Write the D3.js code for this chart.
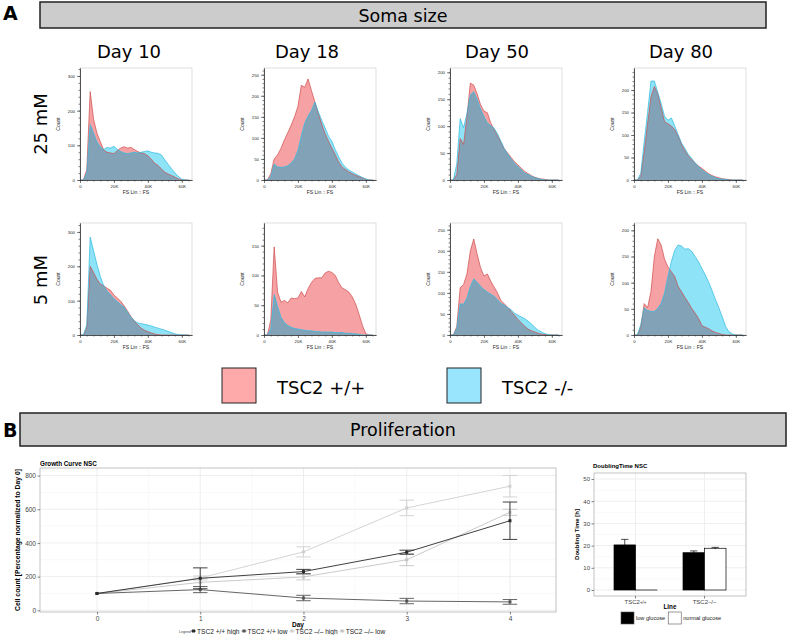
<!DOCTYPE html>
<html><head><meta charset="utf-8">
<script src="https://cdn.jsdelivr.net/npm/d3@7"></script>
<style>body{margin:0;background:#fff}svg{display:block}</style>
</head><body>
<svg id="chart" width="787" height="635"></svg>
<script>
// ---------------- DATA ----------------
const sectionTitles = ["Soma size", "Proliferation"];
const panelLetters = ["A", "B"];
const days = ["Day 10", "Day 18", "Day 50", "Day 80"];
const glucoseRows = ["25 mM", "5 mM"];
const genotypes = ["TSC2 +/+", "TSC2 -/-"];
const fsBinsK = [0,2,4,6,8,10,12,14,16,18,20,22,24,26,28,30,32,34,36,38,40,42,44,46,48,50,52,54,56,58,60,62,64];
const fsTicksK = [0, 20, 40, 60];
const fsTickLabels = ["0", "20K", "40K", "60K"];
const fsAxisLabel = "FS Lin :: FS";
const countLabel = "Count";

// 25 mM row
const wt_d10_25 = [0,0,30,255,175,135,110,86,80,78,76,85,92,96,92,94,88,82,78,76,70,60,48,42,32,22,17,13,8,3,0,0,0];
const ko_d10_25 = [0,0,20,160,135,110,95,88,94,92,97,88,82,78,76,78,80,78,80,82,84,80,78,77,72,58,45,32,20,10,2,0,0];
const wt_d18_25 = [0,0,15,50,60,75,95,112,130,150,175,225,220,240,212,185,158,133,110,92,76,60,43,31,25,19,15,11,8,5,2,0,0];
const ko_d18_25 = [0,0,8,38,31,30,31,34,40,50,70,105,135,152,165,185,162,142,124,104,92,72,55,40,30,24,19,15,10,6,2,0,0];
const wt_d50_25 = [0,0,10,77,66,118,180,176,160,140,128,125,106,94,82,70,58,50,42,34,28,22,16,12,8,5,3,2,1,0,0,0,0];
const ko_d50_25 = [0,0,30,114,97,124,158,164,150,132,118,106,101,96,86,72,58,48,39,31,25,19,13,10,7,4,3,1,0,0,0,0,0];
const wt_d80_25 = [0,0,8,62,125,185,208,192,161,130,125,120,112,98,80,65,54,45,38,31,26,20,14,10,7,5,3,2,1,0,0,0,0];
const ko_d80_25 = [0,0,15,85,150,220,220,195,170,142,133,138,120,101,82,70,57,48,38,30,23,17,12,8,5,3,2,1,0,0,0,0,0];
// 5 mM row
const wt_d10_5 = [0,0,20,200,182,162,148,143,136,130,116,108,98,85,70,54,40,30,20,14,10,6,3,1,0,0,0,0,0,0,0,0,0];
const ko_d10_5 = [0,0,30,285,245,205,170,143,128,117,106,97,89,81,66,52,42,35,33,31,29,26,23,20,17,14,10,7,3,1,0,0,0];
const wt_d18_5 = [0,0,25,148,72,55,58,54,62,61,62,73,64,78,88,95,96,96,104,107,105,100,88,79,76,72,64,52,35,16,2,0,0];
const ko_d18_5 = [0,0,10,68,48,30,21,16,13,11,10,9,8,7,7,6,6,5,5,5,5,4,4,4,3,3,2,2,1,0,0,0,0];
const wt_d50_5 = [0,0,20,112,120,145,200,228,192,160,140,145,128,114,100,82,74,66,56,47,37,29,21,14,10,7,4,2,1,0,0,0,0];
const ko_d50_5 = [0,0,15,74,73,88,115,133,125,116,108,102,97,92,84,75,71,65,60,52,47,43,39,33,26,18,11,7,3,1,0,0,0];
const wt_d80_5 = [0,0,15,60,52,83,150,184,172,145,130,121,112,93,83,72,62,51,42,32,18,15,12,8,5,3,1,0,0,0,0,0,0];
const ko_d80_5 = [0,0,20,52,47,45,45,51,60,80,112,140,162,172,170,164,165,160,150,140,127,115,101,85,68,52,35,16,6,2,0,0,0];

const histYMax = [[323, 266, 208, 249], [326, 188, 266, 214]];
const histYStep = [[100, 50, 50, 50], [100, 50, 50, 50]];

// Growth curve
const growthTitle = "Growth Curve NSC";
const growthDays = [0, 1, 2, 3, 4];
const growthYTicks = [0, 200, 400, 600, 800];
const growthSeries = ["TSC2 +/+ high", "TSC2 +/+ low", "TSC2 \u2013/\u2013 high", "TSC2 \u2013/\u2013 low"];
const wtHighMean = [100, 190, 230, 345, 532];
const wtHighErr  = [0, 62, 13, 12, 111];
const wtLowMean  = [100, 123, 73, 55, 50];
const wtLowErr   = [0, 18, 16, 16, 14];
const koHighMean = [100, 192, 347, 608, 737];
const koHighErr  = [0, 12, 30, 46, 64];
const koLowMean  = [100, 166, 198, 300, 582];
const koLowErr   = [0, 25, 17, 35, 18];
const growthXLabel = "Day";
const growthYLabel = "Cell count [Percentage normalized to Day 0]";
const growthLegendTitle = "Legend";

// Doubling time
const doublingTitle = "DoublingTime NSC";
const doublingLines = ["TSC2+/+", "TSC2\u2013/\u2013"];
const glucoseConds = ["low glucose", "normal glucose"];
const lowGlucoseMean = [20.3, 16.8];
const lowGlucoseErr = [2.5, 0.8];
const normalGlucoseMean = [0, 18.8];
const normalGlucoseErr = [0, 0.4];
const doublingYTicks = [0, 10, 20, 30, 40, 50];
const doublingXLabel = "Line";
const doublingYLabel = "Doubling Time [h]";

// ---------------- DRAWING ----------------
const svg = d3.select("#chart");
const SANS = "DejaVu Sans";
const ARIAL = "Liberation Sans, Arial, sans-serif";

// ---- Panel A header ----
svg.append("text").text(panelLetters[0]).attr("x", 3).attr("y", 20)
  .attr("font-family", SANS).attr("font-weight", "bold").attr("font-size", 19);
svg.append("rect").attr("x", 40).attr("y", 2).attr("width", 726).attr("height", 26)
  .attr("fill", "#cccccc").attr("stroke", "#222").attr("stroke-width", 1.5);
svg.append("text").text(sectionTitles[0]).attr("x", 403).attr("y", 21.5)
  .attr("text-anchor", "middle").attr("font-family", SANS).attr("font-size", 17.5);

const dayCenters = [129, 307, 497, 681];
days.forEach((d, i) => svg.append("text").text(d).attr("x", dayCenters[i]).attr("y", 58)
  .attr("text-anchor", "middle").attr("font-family", SANS).attr("font-size", 18));

const rowCentersY = [124, 280];
glucoseRows.forEach((g, i) => svg.append("text").text(g)
  .attr("transform", `translate(47,${rowCentersY[i]}) rotate(-90)`)
  .attr("text-anchor", "middle").attr("font-family", SANS).attr("font-size", 18));

// ---- histograms ----
const histPairs = [
  [[wt_d10_25, ko_d10_25], [wt_d18_25, ko_d18_25], [wt_d50_25, ko_d50_25], [wt_d80_25, ko_d80_25]],
  [[wt_d10_5, ko_d10_5], [wt_d18_5, ko_d18_5], [wt_d50_5, ko_d50_5], [wt_d80_5, ko_d80_5]]
];
const colLeft = [80, 264, 450, 634];
const rowTop = [68, 223];
const PW = 112, PH = 112;
const WT_FILL = "#f6a2a4", KO_FILL = "#8fe3f7", BOTH_FILL = "#82a2b8";
const WT_LINE = "#cf4a4c", KO_LINE = "#2db9de";

histPairs.forEach((row, r) => row.forEach((pair, c) => {
  const x0 = colLeft[c], y0 = rowTop[r];
  const x = d3.scaleLinear().domain([0, 66]).range([x0, x0 + PW]);
  const y = d3.scaleLinear().domain([0, histYMax[r][c]]).range([y0 + PH, y0]);
  const g = svg.append("g");
  g.append("rect").attr("x", x0).attr("y", y0).attr("width", PW).attr("height", PH)
    .attr("fill", "none").attr("stroke", "#c8c8c8").attr("stroke-width", 0.6);
  const area = d3.area().x((d, i) => x(fsBinsK[i])).y0(y(0)).y1(d => y(d));
  const line = d3.line().x((d, i) => x(fsBinsK[i])).y(d => y(d));
  const clipId = `clipwt${r}${c}`;
  g.append("clipPath").attr("id", clipId).append("path").attr("d", area(pair[0]));
  g.append("path").attr("d", area(pair[0])).attr("fill", WT_FILL);
  g.append("path").attr("d", area(pair[1])).attr("fill", KO_FILL);
  g.append("path").attr("d", area(pair[1])).attr("fill", BOTH_FILL).attr("clip-path", `url(#${clipId})`);
  g.append("path").attr("d", line(pair[0])).attr("fill", "none").attr("stroke", WT_LINE).attr("stroke-width", 0.7);
  g.append("path").attr("d", line(pair[1])).attr("fill", "none").attr("stroke", KO_LINE).attr("stroke-width", 0.7);

  const step = histYStep[r][c];
  const majors = d3.range(0, histYMax[r][c] + 1e-6, step);
  const minors = d3.range(0, histYMax[r][c] + 1e-6, step / 5);
  const ya = g.append("g").attr("transform", `translate(${x0},0)`)
    .call(d3.axisLeft(y).tickValues(minors).tickSize(1.5).tickSizeOuter(0).tickFormat(""));
  const yb = g.append("g").attr("transform", `translate(${x0},0)`)
    .call(d3.axisLeft(y).tickValues(majors).tickSize(3).tickSizeOuter(0).tickPadding(2).tickFormat(d3.format("d")));
  const xa = g.append("g").attr("transform", `translate(0,${y0 + PH})`)
    .call(d3.axisBottom(x).tickValues(d3.range(0, 66, 4)).tickSize(1.5).tickSizeOuter(0).tickFormat(""));
  const xb = g.append("g").attr("transform", `translate(0,${y0 + PH})`)
    .call(d3.axisBottom(x).tickValues(fsTicksK).tickSize(3).tickSizeOuter(0).tickPadding(2)
      .tickFormat((d, i) => fsTickLabels[i]));
  [ya, yb, xa, xb].forEach(a => {
    a.attr("font-size", 4.3).attr("font-family", ARIAL);
    a.selectAll("path,line").attr("stroke", "#333").attr("stroke-width", 0.6);
    a.selectAll("text").attr("fill", "#222");
  });
  g.append("text").text(countLabel).attr("transform", `translate(${x0 - 20},${y0 + PH / 2}) rotate(-90)`)
    .attr("text-anchor", "middle").attr("font-family", ARIAL).attr("font-size", 5).attr("fill", "#222");
  g.append("text").text(fsAxisLabel).attr("x", x0 + PW / 2).attr("y", y0 + PH + 14)
    .attr("text-anchor", "middle").attr("font-family", ARIAL).attr("font-size", 5).attr("fill", "#222");
}));

// ---- Panel A legend ----
const legendFills = ["#ffaaaa", "#99e5fd"];
const legendBoxX = [222, 447];
genotypes.forEach((gname, i) => {
  svg.append("rect").attr("x", legendBoxX[i]).attr("y", 368).attr("width", 34).attr("height", 35)
    .attr("fill", legendFills[i]).attr("stroke", "#222").attr("stroke-width", 1);
  svg.append("text").text(gname).attr("x", legendBoxX[i] + 55).attr("y", 394)
    .attr("font-family", SANS).attr("font-size", 18);
});

// ---- Panel B header ----
svg.append("text").text(panelLetters[1]).attr("x", 3).attr("y", 437)
  .attr("font-family", SANS).attr("font-weight", "bold").attr("font-size", 19);
svg.append("rect").attr("x", 20).attr("y", 413).attr("width", 766).attr("height", 33)
  .attr("fill", "#cccccc").attr("stroke", "#222").attr("stroke-width", 1.5);
svg.append("text").text(sectionTitles[1]).attr("x", 403).attr("y", 436)
  .attr("text-anchor", "middle").attr("font-family", SANS).attr("font-size", 17.5);

// ---- Growth curve ----
{
  const L = 40, R = 556, T = 468, B = 612;
  const gx = d3.scaleLinear().domain([-0.552, 4.446]).range([L, R]);
  const gy = d3.scaleLinear().domain([-10, 845]).range([B, T]);
  const g = svg.append("g");
  g.append("rect").attr("x", L).attr("y", T).attr("width", R - L).attr("height", B - T).attr("fill", "#fff");
  [0.5, 1.5, 2.5, 3.5].forEach(v => g.append("line").attr("x1", gx(v)).attr("x2", gx(v)).attr("y1", T).attr("y2", B).attr("stroke", "#f3f3f3").attr("stroke-width", 0.5));
  [100, 300, 500, 700].forEach(v => g.append("line").attr("x1", L).attr("x2", R).attr("y1", gy(v)).attr("y2", gy(v)).attr("stroke", "#f3f3f3").attr("stroke-width", 0.5));
  growthDays.forEach(v => g.append("line").attr("x1", gx(v)).attr("x2", gx(v)).attr("y1", T).attr("y2", B).attr("stroke", "#e6e6e6").attr("stroke-width", 0.7));
  growthYTicks.forEach(v => g.append("line").attr("x1", L).attr("x2", R).attr("y1", gy(v)).attr("y2", gy(v)).attr("stroke", "#e6e6e6").attr("stroke-width", 0.7));

  const series = [
    { name: growthSeries[3], mean: koLowMean, err: koLowErr, color: "#c4c4c4" },
    { name: growthSeries[2], mean: koHighMean, err: koHighErr, color: "#cfcfcf" },
    { name: growthSeries[1], mean: wtLowMean, err: wtLowErr, color: "#555555" },
    { name: growthSeries[0], mean: wtHighMean, err: wtHighErr, color: "#2a2a2a" }
  ];
  const ln = d3.line().x((d, i) => gx(growthDays[i])).y(d => gy(d));
  series.forEach(s => {
    g.append("path").attr("d", ln(s.mean)).attr("fill", "none").attr("stroke", s.color).attr("stroke-width", 0.9);
    s.mean.forEach((m, i) => {
      if (s.err[i] > 0) {
        const cx = gx(growthDays[i]), y1 = gy(m - s.err[i]), y2 = gy(m + s.err[i]);
        const cw = gx(0.07) - gx(0);
        g.append("line").attr("x1", cx).attr("x2", cx).attr("y1", y1).attr("y2", y2).attr("stroke", s.color).attr("stroke-width", 0.9);
        g.append("line").attr("x1", cx - cw).attr("x2", cx + cw).attr("y1", y1).attr("y2", y1).attr("stroke", s.color).attr("stroke-width", 0.9);
        g.append("line").attr("x1", cx - cw).attr("x2", cx + cw).attr("y1", y2).attr("y2", y2).attr("stroke", s.color).attr("stroke-width", 0.9);
      }
      g.append("rect").attr("x", gx(growthDays[i]) - 1.5).attr("y", gy(m) - 1.5).attr("width", 3).attr("height", 3).attr("fill", s.color);
    });
  });
  g.append("rect").attr("x", L).attr("y", T).attr("width", R - L).attr("height", B - T)
    .attr("fill", "none").attr("stroke", "#b5b5b5").attr("stroke-width", 0.8);

  const ya = g.append("g").attr("transform", `translate(${L},0)`)
    .call(d3.axisLeft(gy).tickValues(growthYTicks).tickSize(2.5).tickSizeOuter(0).tickPadding(1.5));
  const xa = g.append("g").attr("transform", `translate(0,${B})`)
    .call(d3.axisBottom(gx).tickValues(growthDays).tickSize(2.5).tickSizeOuter(0).tickPadding(1.5).tickFormat(d3.format("d")));
  [ya, xa].forEach(a => {
    a.attr("font-size", 6.5).attr("font-family", ARIAL);
    a.select(".domain").remove();
    a.selectAll("line").attr("stroke", "#333").attr("stroke-width", 0.6);
    a.selectAll("text").attr("fill", "#444");
  });
  g.append("text").text(growthTitle).attr("x", L).attr("y", 466)
    .attr("font-family", ARIAL).attr("font-weight", "bold").attr("font-size", 6.3);
  g.append("text").text(growthXLabel).attr("x", (L + R) / 2).attr("y", 627)
    .attr("text-anchor", "middle").attr("font-family", ARIAL).attr("font-weight", "bold").attr("font-size", 6.5);
  g.append("text").text(growthYLabel).attr("transform", `translate(20,${(T + B) / 2}) rotate(-90)`)
    .attr("text-anchor", "middle").attr("font-family", ARIAL).attr("font-weight", "bold").attr("font-size", 6.8);

  // legend
  const lg = g.append("g").attr("font-family", ARIAL);
  lg.append("text").text(growthLegendTitle).attr("x", 179).attr("y", 633).attr("font-size", 3.5).attr("fill", "#444");
  let cx = 191;
  const legendOrder = [series[3], series[2], series[1], series[0]];
  legendOrder.forEach(s => {
    lg.append("line").attr("x1", cx).attr("x2", cx + 5).attr("y1", 631).attr("y2", 631).attr("stroke", s.color).attr("stroke-width", 0.9);
    lg.append("rect").attr("x", cx + 1).attr("y", 629.5).attr("width", 3).attr("height", 3).attr("fill", s.color);
    const t = lg.append("text").text(s.name).attr("x", cx + 6).attr("y", 633.5).attr("font-size", 6.6).attr("fill", "#222");
    cx += 6 + t.node().getComputedTextLength() + 2;
  });
}

// ---- Doubling time ----
{
  const L = 594, R = 746, T = 473, B = 596;
  const dy = d3.scaleLinear().domain([-2.7, 52.7]).range([B, T]);
  const dx = d3.scaleBand().domain(doublingLines).range([L, R]).paddingInner(0.377).paddingOuter(0.29);
  const inner = d3.scaleBand().domain(glucoseConds).range([0, dx.bandwidth()]);
  const g = svg.append("g");
  [5, 15, 25, 35, 45].forEach(v => g.append("line").attr("x1", L).attr("x2", R).attr("y1", dy(v)).attr("y2", dy(v)).attr("stroke", "#f3f3f3").attr("stroke-width", 0.5));
  doublingYTicks.forEach(v => g.append("line").attr("x1", L).attr("x2", R).attr("y1", dy(v)).attr("y2", dy(v)).attr("stroke", "#e6e6e6").attr("stroke-width", 0.7));
  doublingLines.forEach(v => g.append("line").attr("x1", dx(v) + dx.bandwidth() / 2).attr("x2", dx(v) + dx.bandwidth() / 2).attr("y1", T).attr("y2", B).attr("stroke", "#e6e6e6").attr("stroke-width", 0.7));

  const condData = [
    { cond: glucoseConds[0], mean: lowGlucoseMean, err: lowGlucoseErr, fill: "#000" },
    { cond: glucoseConds[1], mean: normalGlucoseMean, err: normalGlucoseErr, fill: "#fff" }
  ];
  condData.forEach(cd => doublingLines.forEach((ln, i) => {
    const bx = dx(ln) + inner(cd.cond), bw = inner.bandwidth();
    const top = dy(cd.mean[i]), base = dy(0);
    g.append("rect").attr("x", bx).attr("y", top).attr("width", bw).attr("height", Math.max(base - top, 0.01))
      .attr("fill", cd.fill).attr("stroke", "#000").attr("stroke-width", 0.7);
    if (cd.err[i] > 0) {
      const cx = bx + bw / 2, cw = bw * 0.17;
      const e1 = dy(cd.mean[i] + cd.err[i]), e0 = dy(cd.mean[i] - cd.err[i]);
      g.append("line").attr("x1", cx).attr("x2", cx).attr("y1", e0).attr("y2", e1).attr("stroke", "#000").attr("stroke-width", 0.7);
      g.append("line").attr("x1", cx - cw).attr("x2", cx + cw).attr("y1", e1).attr("y2", e1).attr("stroke", "#000").attr("stroke-width", 0.7);
    }
  }));
  g.append("rect").attr("x", L).attr("y", T).attr("width", R - L).attr("height", B - T)
    .attr("fill", "none").attr("stroke", "#b5b5b5").attr("stroke-width", 0.8);

  const ya = g.append("g").attr("transform", `translate(${L},0)`)
    .call(d3.axisLeft(dy).tickValues(doublingYTicks).tickSize(2.5).tickSizeOuter(0).tickPadding(1.5));
  ya.attr("font-size", 6).attr("font-family", ARIAL);
  ya.select(".domain").remove();
  ya.selectAll("line").attr("stroke", "#333").attr("stroke-width", 0.6);
  ya.selectAll("text").attr("fill", "#444");
  doublingLines.forEach((ln, i) => {
    const cx = dx(ln) + dx.bandwidth() / 2;
    g.append("line").attr("x1", cx).attr("x2", cx).attr("y1", B).attr("y2", B + 2.5).attr("stroke", "#333").attr("stroke-width", 0.6);
    const t = g.append("text").attr("x", cx).attr("y", B + 7.5).attr("text-anchor", "middle")
      .attr("font-family", ARIAL).attr("font-size", 6).attr("fill", "#444");
    t.append("tspan").text(ln.slice(0, 4));
    t.append("tspan").text(ln.slice(4)).attr("font-size", i === 0 ? 4.5 : 6);
  });
  g.append("text").text(doublingTitle).attr("x", L - 1).attr("y", 468)
    .attr("font-family", ARIAL).attr("font-weight", "bold").attr("font-size", 6);
  g.append("text").text(doublingXLabel).attr("x", (L + R) / 2).attr("y", 609)
    .attr("text-anchor", "middle").attr("font-family", ARIAL).attr("font-weight", "bold").attr("font-size", 6.3).attr("fill", "#000");
  g.append("text").text(doublingYLabel).attr("transform", `translate(579,${(T + B) / 2}) rotate(-90)`)
    .attr("text-anchor", "middle").attr("font-family", ARIAL).attr("font-weight", "bold").attr("font-size", 6);
  let lx = 621;
  condData.forEach(cd => {
    g.append("rect").attr("x", lx).attr("y", 612).attr("width", 13).attr("height", 12)
      .attr("fill", cd.fill).attr("stroke", "#555").attr("stroke-width", 0.6);
    const t = g.append("text").text(cd.cond).attr("x", lx + 15).attr("y", 620)
      .attr("font-family", ARIAL).attr("font-size", 5.6).attr("fill", "#222");
    lx += 15 + t.node().getComputedTextLength() + 3;
  });
}
</script>
</body></html>
